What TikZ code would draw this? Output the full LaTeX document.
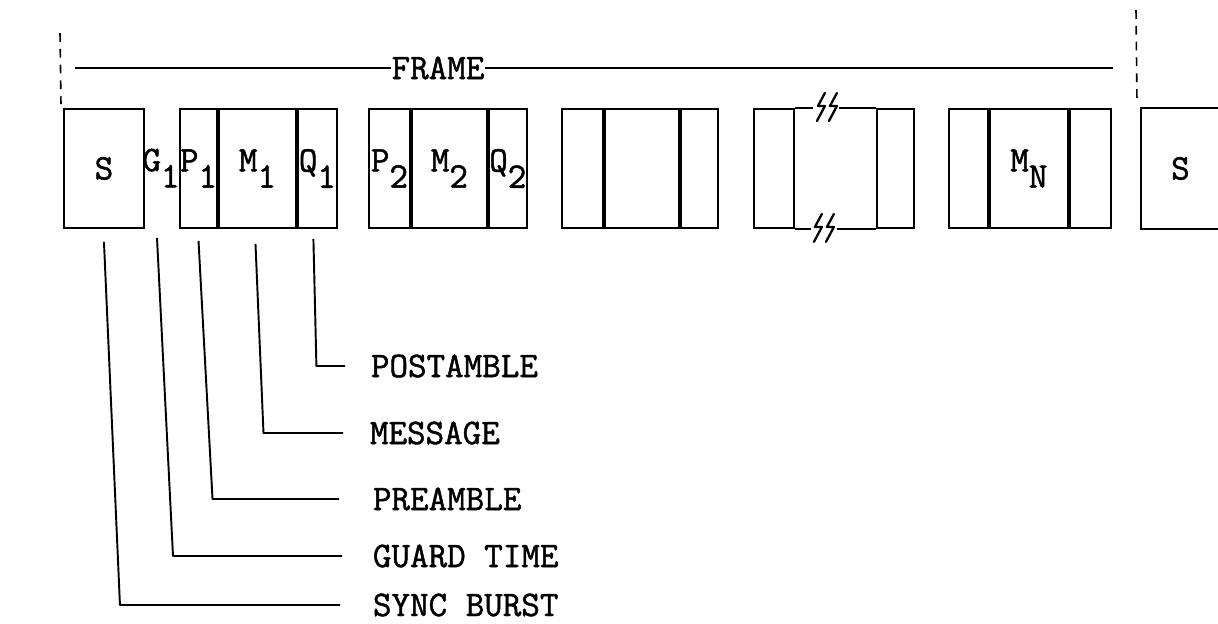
\documentclass[tikz,border=0pt]{standalone}
\usepackage{fontspec}
\usetikzlibrary{positioning, calc}

\newfontfamily\typew{Latin Modern Mono}[FakeBold=1.3]
\newcommand{\lowr}[1]{\raisebox{-0.45em}{#1}}

\begin{document}
\begin{tikzpicture}[
		x=0.02cm, y=-0.02cm,
		line width=1.1pt,
		% one slot of a frame
		cell/.style={
				rectangle, draw, inner sep=0pt, minimum height=2.38cm,
				font=\typew\fontsize{20.5}{24}\selectfont
			},
		% free text
		txt/.style={inner sep=0pt, font=\typew\fontsize{20.5}{24}\selectfont},
		% leaders and cuts
		lead/.style={line width=1.1pt, line join=round},
		cutline/.style={line width=0.9pt, dash pattern=on 5pt off 4pt},
		brk/.pic={\draw[line width=1.3pt, line cap=round, line join=round] (10,-15) -- (3,-2) -- (10,-2) -- (2,13);}
	]
	\useasboundingbox (0,0) rectangle (1218,623);

	% ==========================================
	% 1. SYNC BURST AND GUARD TIME
	% ==========================================
	\node[cell, minimum width=1.6cm, anchor=north west] (sync) at (63,108) {S};
	\node[txt] (g1) at (161,168) {G\lowr{1}};

	% ==========================================
	% 2. MESSAGE SLOTS
	% ==========================================
	% Slot 1
	\node[cell, minimum width=0.72cm, anchor=north west] (p1) at (179,108) {P\lowr{1}};
	\node[cell, minimum width=1.54cm, right=0pt of p1] (m1) {M\lowr{1}};
	\node[cell, minimum width=0.78cm, right=0pt of m1] (q1) {Q\lowr{1}};

	% Slot 2
	\node[cell, minimum width=0.82cm, anchor=north west] (p2) at (368,108) {P\lowr{2}};
	\node[cell, minimum width=1.5cm, right=0pt of p2] (m2) {M\lowr{2}};
	\node[cell, minimum width=0.76cm, right=0pt of m2] (q2) {Q\lowr{2}};

	% Slot 3
	\node[cell, minimum width=0.82cm, anchor=north west] (p3) at (561,108) {};
	\node[cell, minimum width=1.48cm, right=0pt of p3] (m3) {};
	\node[cell, minimum width=0.74cm, right=0pt of m3] (q3) {};

	% Slot 4 (broken)
	\node[cell, minimum width=0.8cm, anchor=north west] (p4) at (753,108) {};
	\node[cell, draw=none, minimum width=1.58cm, right=0pt of p4] (m4) {};
	\node[cell, minimum width=0.74cm, right=0pt of m4] (q4) {};

	\coordinate (topcut) at ($(m4.north west)+(18,0)$);
	\draw (m4.north west) -- (topcut);
	\pic at ($(topcut)+(2,0)$) {brk};
	\pic at ($(topcut)+(14,0)$) {brk};
	\draw ($(topcut)+(26,0)$) -- (m4.north east);

	\coordinate (botcut) at ($(m4.south west)+(16,0)$);
	\draw (m4.south west) -- (botcut);
	\pic at ($(botcut)+(1,0)$) {brk};
	\pic at ($(botcut)+(13,0)$) {brk};
	\draw ($(botcut)+(26,0)$) -- (m4.south east);

	% Slot N
	\node[cell, minimum width=0.78cm, anchor=north west] (p5) at (948,108) {};
	\node[cell, minimum width=1.56cm, right=0pt of p5] (m5) {M\lowr{N}};
	\node[cell, minimum width=0.82cm, right=0pt of m5] (q5) {};

	% Next sync burst
	\node[cell, draw=none, minimum width=1.54cm, anchor=north west] (s2) at (1141,108) {S};
	\draw (s2.north east) -- (s2.north west) -- (s2.south west) -- (s2.south east);

	% ==========================================
	% 3. FRAME SPAN
	% ==========================================
	\node[txt] (frame) at (438,68) {FRAME};
	\coordinate (frl) at (75,68);
	\coordinate (frr) at (1113,68);
	\draw (frl) -- (frame.west);
	\draw (frame.east) -- (frr);

	\coordinate (cutl) at (60,33);
	\coordinate (cutr) at (1136,10);
	\draw[cutline] (cutl) -- ($(sync.north west)+(-2,-4)$);
	\draw[cutline] (cutr) -- ($(s2.north west)+(-4,-6)$);

	% ==========================================
	% 4. LEGEND
	% ==========================================
	\node[txt, anchor=west] (post) at (370,366) {POSTAMBLE};
	\node[txt, anchor=west] (msg) at (369,433) {MESSAGE};
	\node[txt, anchor=west] (pre) at (372,499) {PREAMBLE};
	\node[txt, anchor=west] (guard) at (372,556) {GUARD TIME};
	\node[txt, anchor=west] (burst) at (372,605) {SYNC BURST};

	\draw[lead] ($(q1.south)+(-4,10)$) -- ($(q1.south |- post.west)+(-1,0)$) -- ($(post.west)+(-25,0)$);
	\draw[lead] ($(m1.south)+(-2,15)$) -- ($(m1.south |- msg.west)+(6,0)$) -- ($(msg.west)+(-26,0)$);
	\draw[lead] ($(p1.south)+(0,12)$) -- ($(p1.south |- pre.west)+(14,0)$) -- ($(pre.west)+(-33,0)$);
	\draw[lead] ($(g1 |- sync.south)+(-4,9)$) -- ($(g1 |- guard.west)+(12,0)$) -- ($(guard.west)+(-30,0)$);
	\draw[lead] ($(sync.south)+(0,13)$) -- ($(sync.south |- burst.west)+(16,0)$) -- ($(burst.west)+(-32,0)$);

\end{tikzpicture}
\end{document}
